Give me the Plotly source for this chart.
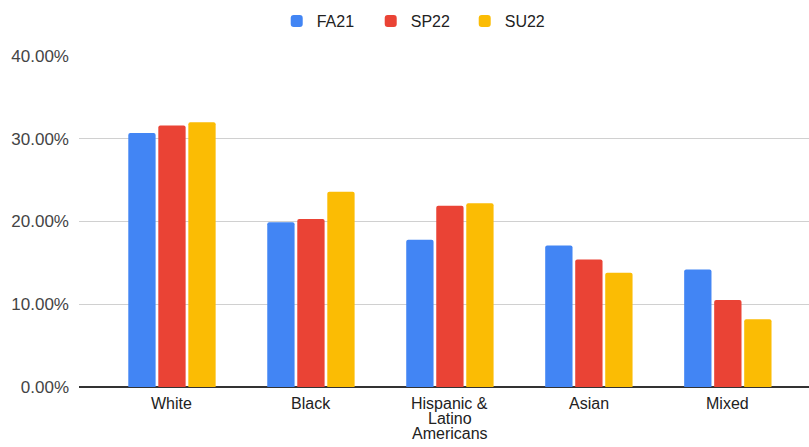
import plotly.graph_objects as go

groups = ["White", "Black", "Hispanic &\nLatino\nAmericans", "Asian", "Mixed"]
fa21 = [0.307, 0.199, 0.178, 0.171, 0.142]
sp22 = [0.316, 0.203, 0.219, 0.154, 0.105]
su22 = [0.320, 0.236, 0.222, 0.138, 0.082]
y_ticks = [0, 0.1, 0.2, 0.3, 0.4]

COLORS = {"FA21": "#4285F4", "SP22": "#EA4335", "SU22": "#FBBC04"}
FONT = "Arial, Liberation Sans, sans-serif"

fig = go.Figure()
for name, vals in [("FA21", fa21), ("SP22", sp22), ("SU22", su22)]:
    fig.add_trace(go.Bar(
        x=list(range(len(groups))), y=vals, name=name,
        marker=dict(color=COLORS[name], line=dict(width=0)),
    ))

# category labels as annotations so the wrapped one can use tight line spacing
for i, label in enumerate(groups):
    for j, line in enumerate(label.split("\n")):
        fig.add_annotation(
            x=i, y=0, xref="x", yref="paper", text=line, showarrow=False,
            xanchor="center", yanchor="top", yshift=-6 - 15 * j,
            font=dict(family=FONT, size=16, color="#222222"),
        )

fig.update_layout(
    width=809, height=447,
    margin=dict(l=79, r=0, t=56, b=60, autoexpand=False),
    paper_bgcolor="white", plot_bgcolor="white",
    font=dict(family=FONT, size=15, color="#444444"),
    barmode="group", bargap=0.352, bargroupgap=0.09, barcornerradius=2,
    showlegend=True,
    legend=dict(orientation="h", x=0.464, xanchor="center", y=1 - 21 / 447,
                yref="container", yanchor="middle",
                font=dict(size=16, color="#222222"),
                itemwidth=30, entrywidth=49, entrywidthmode="pixels",
                traceorder="normal"),
)
fig.update_xaxes(
    tickvals=list(range(len(groups))), showticklabels=False,
    range=[-0.669, 4.584], showgrid=False, zeroline=False,
    showline=False, ticks="",
)
fig.update_yaxes(
    range=[0, 0.4], tickvals=y_ticks, tickformat=".2%",
    showgrid=True, gridcolor="#d0d0d0", gridwidth=1,
    zeroline=True, zerolinecolor="#333333", zerolinewidth=1.5,
    ticks="", ticklabelstandoff=9, tickfont=dict(size=17, color="#444444"),
)

# drop the browser's default 8px body margin so the figure sits at the window origin
fig.write_html("out.html", config={"displayModeBar": False},
               post_script="document.body.style.margin='0';")
